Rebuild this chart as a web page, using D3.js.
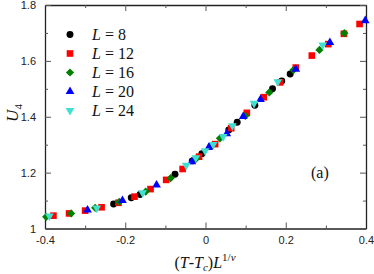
<!DOCTYPE html>
<html>
<head>
<meta charset="utf-8">
<script src="https://cdn.jsdelivr.net/npm/d3@7"></script>
<style>
  body { margin: 0; background: #fff; }
  svg { display: block; }
</style>
</head>
<body>
<div id="chart"></div>
<script>
// data
const sizes = [8, 12, 16, 20, 24];
const colors = ["#000000", "#ff0000", "#008000", "#0000ff", "#40e0d0"];

const xL8 = [-0.229, -0.185, -0.163, -0.076, -0.033, -0.009, 0.014, 0.058, 0.079, 0.123, 0.167, 0.190, 0.211];
const yL8 = [1.088, 1.110, 1.122, 1.194, 1.242, 1.268, 1.296, 1.353, 1.380, 1.441, 1.500, 1.528, 1.553];

const xL12 = [-0.379, -0.340, -0.300, -0.259, -0.217, -0.177, -0.137, -0.098, -0.057, -0.016, 0.024, 0.064, 0.103, 0.145, 0.186, 0.225, 0.265, 0.306, 0.345, 0.384];
const yL12 = [1.046, 1.054, 1.064, 1.076, 1.092, 1.114, 1.141, 1.174, 1.213, 1.257, 1.302, 1.359, 1.414, 1.470, 1.523, 1.576, 1.619, 1.660, 1.697, 1.732];

const xL16 = [-0.397, -0.335, -0.275, -0.215, -0.149, -0.087, -0.024, 0.036, 0.099, 0.159, 0.219, 0.284, 0.346];
const yL16 = [1.042, 1.054, 1.074, 1.095, 1.132, 1.180, 1.249, 1.323, 1.403, 1.487, 1.567, 1.639, 1.699];

const xL20 = [-0.294, -0.207, -0.122, -0.034, 0.008, 0.053, 0.094, 0.137, 0.225, 0.310, 0.398];
const yL20 = [1.066, 1.100, 1.156, 1.239, 1.290, 1.339, 1.401, 1.462, 1.570, 1.666, 1.744];

const xL24 = [-0.389, -0.271, -0.157, -0.048, -0.024, -0.001, 0.019, 0.044, 0.067, 0.121, 0.180, 0.292];
const yL24 = [1.045, 1.073, 1.128, 1.226, 1.253, 1.278, 1.301, 1.329, 1.368, 1.448, 1.525, 1.657];

const xTicks = [-0.4, -0.2, 0, 0.2, 0.4];
const yTicks = [1, 1.2, 1.4, 1.6, 1.8];
const xMinor = [-0.3, -0.1, 0.1, 0.3];
const yMinor = [1.1, 1.3, 1.5, 1.7];

const series = [
  { L: 8, xs: xL8, ys: yL8 },
  { L: 12, xs: xL12, ys: yL12 },
  { L: 16, xs: xL16, ys: yL16 },
  { L: 20, xs: xL20, ys: yL20 },
  { L: 24, xs: xL24, ys: yL24 }
];

const width = 374, height = 274;
const marginLeft = 45, marginRight = 8, marginTop = 5, marginBottom = 45.5;

const svg = d3.select("#chart").append("svg")
  .attr("width", width)
  .attr("height", height);

const x = d3.scaleLinear().domain([-0.4, 0.4]).range([marginLeft, width - marginRight]);
const y = d3.scaleLinear().domain([1, 1.8]).range([height - marginBottom, marginTop]);

const fmt = (d) => (d === 0 ? "0" : d === 1 ? "1" : String(d));

// axes with inward ticks on all four sides
function styleAxis(g) {
  g.select(".domain").attr("stroke", "#222").attr("stroke-width", 1.3);
  g.selectAll(".tick line").attr("stroke", "#555").attr("stroke-width", 1);
  g.selectAll("text")
    .attr("font-family", "Liberation Sans, Arial, sans-serif")
    .attr("font-size", 11)
    .attr("fill", "#222");
}

// bottom
svg.append("g")
  .attr("transform", `translate(0,${height - marginBottom})`)
  .call(d3.axisBottom(x).tickValues(xTicks).tickFormat(fmt).tickSizeInner(-6).tickSizeOuter(0).tickPadding(8))
  .call(styleAxis);
svg.append("g")
  .attr("transform", `translate(0,${height - marginBottom})`)
  .call(d3.axisBottom(x).tickValues(xMinor).tickFormat("").tickSizeInner(-3).tickSizeOuter(0))
  .call(styleAxis)
  .select(".domain").remove();

// top
svg.append("g")
  .attr("transform", `translate(0,${marginTop})`)
  .call(d3.axisTop(x).tickValues(xTicks).tickFormat("").tickSizeInner(-6).tickSizeOuter(0))
  .call(styleAxis);
svg.append("g")
  .attr("transform", `translate(0,${marginTop})`)
  .call(d3.axisTop(x).tickValues(xMinor).tickFormat("").tickSizeInner(-3).tickSizeOuter(0))
  .call(styleAxis)
  .select(".domain").remove();

// left
svg.append("g")
  .attr("transform", `translate(${marginLeft},0)`)
  .call(d3.axisLeft(y).tickValues(yTicks).tickFormat(fmt).tickSizeInner(-6).tickSizeOuter(0).tickPadding(9))
  .call(styleAxis);
svg.append("g")
  .attr("transform", `translate(${marginLeft},0)`)
  .call(d3.axisLeft(y).tickValues(yMinor).tickFormat("").tickSizeInner(-3).tickSizeOuter(0))
  .call(styleAxis)
  .select(".domain").remove();

// right
svg.append("g")
  .attr("transform", `translate(${width - marginRight},0)`)
  .call(d3.axisRight(y).tickValues(yTicks).tickFormat("").tickSizeInner(-6).tickSizeOuter(0))
  .call(styleAxis);
svg.append("g")
  .attr("transform", `translate(${width - marginRight},0)`)
  .call(d3.axisRight(y).tickValues(yMinor).tickFormat("").tickSizeInner(-3).tickSizeOuter(0))
  .call(styleAxis)
  .select(".domain").remove();

// markers
const shapes = [
  { type: d3.symbolCircle, size: 38, rot: 0 },
  { type: d3.symbolSquare, size: 44, rot: 0 },
  { type: d3.symbolSquare, size: 34, rot: 45 },
  { type: d3.symbolTriangle, size: 33, rot: 0 },
  { type: d3.symbolTriangle, size: 33, rot: 180 }
];

series.forEach((s, i) => {
  const pts = s.xs.map((v, k) => ({ x: v, y: s.ys[k] }));
  const sym = d3.symbol().type(shapes[i].type).size(shapes[i].size);
  svg.append("g")
    .selectAll("path")
    .data(pts)
    .enter()
    .append("path")
    .attr("d", sym)
    .attr("fill", colors[i])
    .attr("transform", (d) => `translate(${x(d.x)},${y(d.y)}) rotate(${shapes[i].rot})`);
});

// legend
const serif = "Liberation Serif, Times New Roman, serif";
const legend = svg.append("g");
sizes.forEach((L, i) => {
  const ly = 34.5 + i * 19;
  legend.append("path")
    .attr("d", d3.symbol().type(shapes[i].type).size(shapes[i].size))
    .attr("fill", colors[i])
    .attr("transform", `translate(70,${ly}) rotate(${shapes[i].rot})`);
  const t = legend.append("text")
    .attr("x", 92)
    .attr("y", ly + 5)
    .attr("font-family", serif)
    .attr("font-size", 16)
    .attr("fill", "#111");
  t.append("tspan").attr("font-style", "italic").text("L");
  t.append("tspan").text(" = " + L);
});

// panel label
svg.append("text")
  .attr("x", 311)
  .attr("y", 178)
  .attr("font-family", serif)
  .attr("font-size", 16)
  .attr("fill", "#111")
  .text("(a)");

// x title
const xt = svg.append("text")
  .attr("x", 205)
  .attr("y", 268)
  .attr("text-anchor", "middle")
  .attr("font-family", serif)
  .attr("font-size", 16)
  .attr("fill", "#111");
xt.append("tspan").text("(");
xt.append("tspan").attr("font-style", "italic").text("T");
xt.append("tspan").text("-");
xt.append("tspan").attr("font-style", "italic").text("T");
xt.append("tspan").attr("font-style", "italic").attr("font-size", 11).attr("dy", 3).text("c");
xt.append("tspan").attr("dy", -3).text(")");
xt.append("tspan").attr("font-style", "italic").text("L");
xt.append("tspan").attr("font-size", 11).attr("dy", -7).text("1/");
xt.append("tspan").attr("font-size", 11).attr("font-style", "italic").text("ν");

// y title
const yt = svg.append("text")
  .attr("transform", "translate(18,113) rotate(-90)")
  .attr("text-anchor", "middle")
  .attr("font-family", serif)
  .attr("font-size", 17)
  .attr("fill", "#111");
yt.append("tspan").attr("font-style", "italic").text("U");
yt.append("tspan").attr("font-size", 11).attr("dy", 4).text("4");
</script>
</body>
</html>
